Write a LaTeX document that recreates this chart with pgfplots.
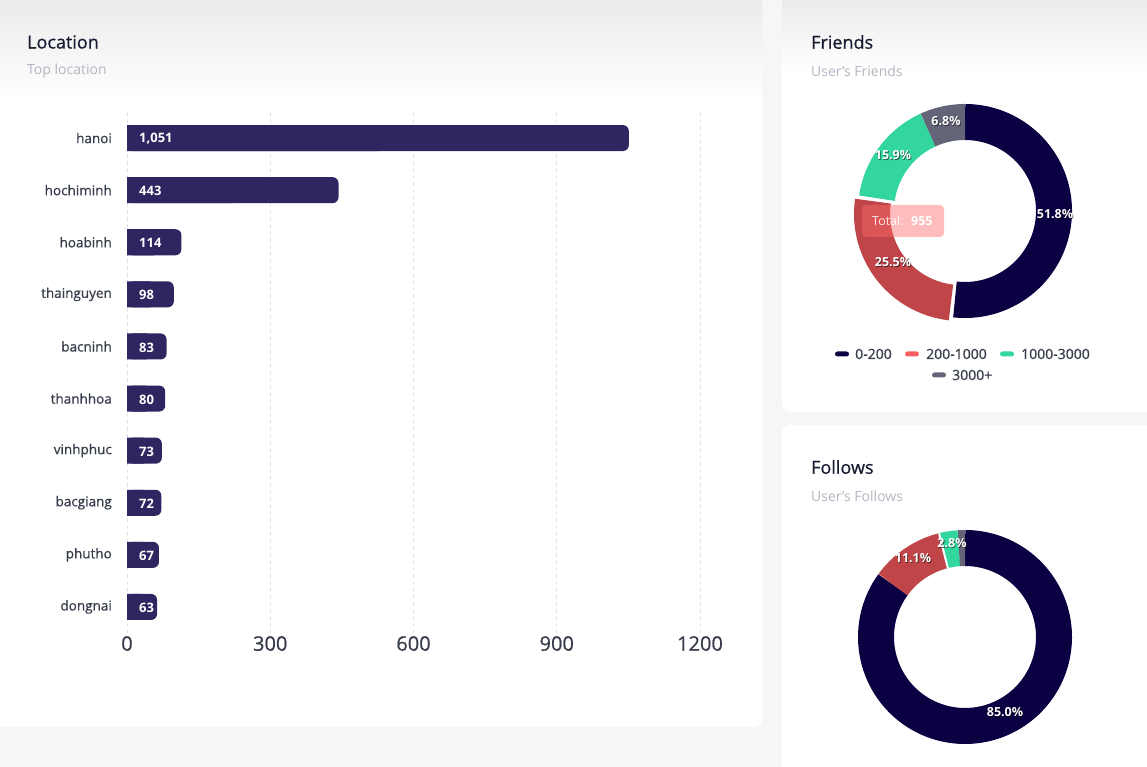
\documentclass[border=0pt]{standalone}
\usepackage{pgfplots}
\pgfplotsset{compat=1.18}
\usepackage{pgfplotstable}
\usepackage{fontspec}
\setmainfont{Open Sans}
\newfontfamily\medfont{Open Sans}[FakeBold=0.7]
\newcommand\fs[1]{\fontsize{#1}{#1}\selectfont}
\definecolor{bgc}{HTML}{F5F6F8}
\definecolor{barc}{HTML}{2E2660}
\definecolor{navyc}{HTML}{0B0042}
\definecolor{redc}{HTML}{BF4548}
\definecolor{redl}{HTML}{F95E5E}
\definecolor{greenc}{HTML}{33D69F}
\definecolor{grayc}{HTML}{646478}
\definecolor{titc}{HTML}{181C32}
\definecolor{subc}{HTML}{B5B5C3}
\definecolor{labc}{HTML}{373D4A}
\definecolor{gridc}{HTML}{E2E2E8}
\definecolor{tipc}{HTML}{FF6B6B}

\pgfplotstableread{
i v lab
0 1051 1,051
1 443 443
2 114 114
3 98 98
4 83 83
5 80 80
6 73 73
7 72 72
8 67 67
9 63 63
}\loc

\begin{document}
\begin{tikzpicture}
\useasboundingbox (0pt,0pt) rectangle (1147pt,767pt);
\clip (0pt,0pt) rectangle (1147pt,767pt);
\begin{scope}[x=1pt,y=1pt]
% background and cards
\fill[bgc] (0,0) rectangle (1147,767);
\fill[white, rounded corners=8pt] (-10,40) rectangle (762,780);
\fill[white, rounded corners=8pt] (782,355) rectangle (1160,780);
\fill[white, rounded corners=8pt] (782,-10) rectangle (1160,342);
\shade[top color=gray!16, bottom color=white] (0,667) rectangle (762,767);
\shade[top color=gray!16, bottom color=white] (782,697) rectangle (1147,767);

% titles
\node[anchor=west, text=titc, font=\medfont\fs{18}, inner sep=0pt] at (27,725) {Location};
\node[anchor=west, text=subc, font=\fs{14}, inner sep=0pt] at (27,696) {Top location};
\node[anchor=west, text=titc, font=\medfont\fs{18}, inner sep=0pt] at (811,725) {Friends};
\node[anchor=west, text=subc, font=\fs{14}, inner sep=0pt] at (811,696) {User’s Friends};
\node[anchor=west, text=titc, font=\medfont\fs{18}, inner sep=0pt] at (811,300) {Follows};
\node[anchor=west, text=subc, font=\fs{14}, inner sep=0pt] at (811,271) {User’s Follows};
\end{scope}

% bar chart
\begin{axis}[
  at={(127pt,134pt)}, anchor=south west,
  scale only axis, width=573pt, height=521pt,
  xmin=0, xmax=1200, ymin=-0.5, ymax=9.5, y dir=reverse,
  xtick={0,300,600,900,1200},
  ytick={0,1,2,3,4,5,6,7,8,9},
  yticklabels={hanoi,hochiminh,hoabinh,thainguyen,bacninh,thanhhoa,vinhphuc,bacgiang,phutho,dongnai},
  xmajorgrids,
  grid style={gridc, dash pattern=on 4pt off 3pt, line width=0.8pt},
  axis line style={draw=none},
  major tick length=0pt,
  /pgf/number format/1000 sep={},
  /pgf/number format/assume math mode=true,
  xticklabel style={font=\medfont\fs{20}, text=labc, inner sep=0pt, yshift=-3pt},
  yticklabel style={font=\medfont\fs{13.5}, text=labc, inner sep=0pt, xshift=-15pt},
]
\addplot[xbar, bar shift=0pt, bar width=26pt, fill=barc, draw=none, rounded corners=6pt] table[x=v, y=i] {\loc};
\addplot[xbar, bar shift=0pt, bar width=26pt, fill=barc, draw=none] table[x expr=\thisrow{v}/2, y=i] {\loc};
\addplot[draw=none, mark=none, point meta=explicit symbolic, nodes near coords,
  nodes near coords style={anchor=west, xshift=12pt, yshift=-1pt, font=\bfseries\fs{13}, text=white, inner sep=0pt}]
  table[x expr=0, y=i, meta=lab] {\loc};
\end{axis}

% Friends donut
\begin{axis}[
  at={(965pt,556pt)}, anchor=center, hide axis, clip=false,
  scale only axis, width=214pt, height=214pt,
  xmin=-107, xmax=107, ymin=-107, ymax=107,
]
\addplot[domain=-96.48:90, samples=120, line width=36pt, draw=navyc] ({89*cos(x)},{89*sin(x)});
\addplot[domain=-188.28:-96.48, samples=80, line width=36pt, draw=redc, xshift=-4pt, yshift=-3pt] ({89*cos(x)},{89*sin(x)});
\addplot[domain=-245.52:-188.28, samples=60, line width=36pt, draw=greenc] ({89*cos(x)},{89*sin(x)});
\addplot[domain=-270:-245.52, samples=30, line width=36pt, draw=grayc] ({89*cos(x)},{89*sin(x)});
\addplot[draw=none, mark=none, point meta=explicit symbolic, nodes near coords,
  nodes near coords style={anchor=center, font=\bfseries\fs{12.5}, text=black, opacity=0.55, xshift=0.8pt, yshift=-0.8pt}]
  coordinates {(90,-3) [51.8\%] (-72,-51) [25.5\%] (-72,56) [15.9\%] (-19,90) [6.8\%]};
\addplot[draw=none, mark=none, point meta=explicit symbolic, nodes near coords,
  nodes near coords style={anchor=center, font=\bfseries\fs{12.5}, text=white}]
  coordinates {(90,-3) [51.8\%] (-72,-51) [25.5\%] (-72,56) [15.9\%] (-19,90) [6.8\%]};
\end{axis}

% Follows donut
\begin{axis}[
  at={(965pt,130pt)}, anchor=center, hide axis, clip=false,
  scale only axis, width=214pt, height=214pt,
  xmin=-107, xmax=107, ymin=-107, ymax=107,
]
\addplot[domain=-216:90, samples=160, line width=36pt, draw=navyc] ({89*cos(x)},{89*sin(x)});
\addplot[domain=104.04:144, samples=40, line width=36pt, draw=redc] ({89*cos(x)},{89*sin(x)});
\addplot[domain=93.96:104.04, samples=20, line width=36pt, draw=greenc] ({89*cos(x)},{89*sin(x)});
\addplot[domain=90:93.96, samples=10, line width=36pt, draw=grayc] ({89*cos(x)},{89*sin(x)});
\addplot[draw=white, line width=2pt] coordinates {(-17.2,69) (-26,103.8)};
\addplot[draw=none, mark=none, point meta=explicit symbolic, nodes near coords,
  nodes near coords style={anchor=center, font=\bfseries\fs{12.5}, text=black, opacity=0.55, xshift=0.8pt, yshift=-0.8pt}]
  coordinates {(40,-75) [85.0\%] (-52,79) [11.1\%] (-13,94) [2.8\%]};
\addplot[draw=none, mark=none, point meta=explicit symbolic, nodes near coords,
  nodes near coords style={anchor=center, font=\bfseries\fs{12.5}, text=white}]
  coordinates {(40,-75) [85.0\%] (-52,79) [11.1\%] (-13,94) [2.8\%]};
\end{axis}

\begin{scope}[x=1pt,y=1pt]
% tooltip
\fill[tipc, fill opacity=0.45, rounded corners=4pt] (862,530) rectangle (944,562);
\node[anchor=west, text=white, text opacity=0.85, font=\fs{12.5}, inner sep=0pt] at (872,546) {Total:};
\node[anchor=west, text=white, font=\bfseries\fs{12.5}, inner sep=0pt] at (911,546) {955};

% legend
\fill[navyc, rounded corners=2.5pt] (835,410.5) rectangle (849,415.5);
\node[anchor=west, text=labc, font=\medfont\fs{14}, inner sep=0pt] at (855,413) {0-200};
\fill[redl, rounded corners=2.5pt] (905,410.5) rectangle (919,415.5);
\node[anchor=west, text=labc, font=\medfont\fs{14}, inner sep=0pt] at (926,413) {200-1000};
\fill[greenc, rounded corners=2.5pt] (1000,410.5) rectangle (1014,415.5);
\node[anchor=west, text=labc, font=\medfont\fs{14}, inner sep=0pt] at (1021,413) {1000-3000};
\fill[grayc, rounded corners=2.5pt] (932,389.5) rectangle (946,394.5);
\node[anchor=west, text=labc, font=\medfont\fs{14}, inner sep=0pt] at (952,392) {3000+};
\end{scope}
\end{tikzpicture}
\end{document}
